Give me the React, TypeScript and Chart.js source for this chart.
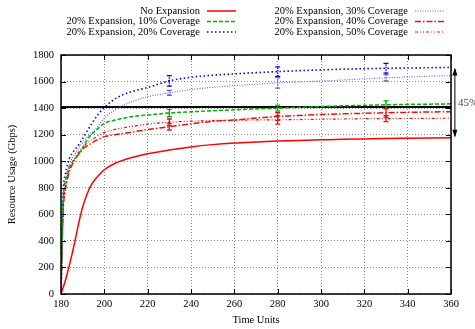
import React, { useEffect, useRef } from "react";
import { Chart, registerables } from "chart.js";

Chart.register(...registerables);

const xs = [180, 181, 182, 183, 184, 186, 188, 190, 192, 194, 196, 198, 200, 205, 210, 215, 220, 230, 240, 250, 260, 270, 280, 290, 300, 310, 320, 330, 340, 350, 360];

const noExpansion = [0, 50, 100, 160, 225, 365, 520, 655, 752, 822, 868, 904, 936, 985, 1015, 1038, 1056, 1085, 1108, 1125, 1137, 1145, 1152, 1157, 1161, 1165, 1168, 1171, 1173, 1175, 1177];
const cov10 = [0, 700, 840, 915, 960, 1010, 1050, 1100, 1160, 1200, 1230, 1260, 1285, 1310, 1328, 1340, 1348, 1363, 1372, 1380, 1387, 1394, 1400, 1406, 1412, 1417, 1421, 1425, 1428, 1430, 1432];
const cov20 = [0, 760, 900, 975, 1025, 1080, 1120, 1170, 1225, 1278, 1328, 1370, 1405, 1470, 1510, 1535, 1555, 1605, 1632, 1648, 1658, 1667, 1675, 1682, 1688, 1693, 1697, 1700, 1702, 1704, 1706];
const cov30 = [0, 720, 860, 930, 985, 1045, 1095, 1140, 1180, 1213, 1245, 1285, 1323, 1388, 1430, 1462, 1486, 1515, 1540, 1556, 1569, 1580, 1590, 1597, 1604, 1612, 1620, 1628, 1634, 1640, 1645];
const cov40 = [0, 620, 780, 870, 930, 1000, 1050, 1090, 1115, 1135, 1155, 1170, 1185, 1200, 1212, 1225, 1238, 1260, 1282, 1300, 1310, 1325, 1336, 1345, 1352, 1357, 1361, 1365, 1368, 1371, 1373];
const cov50 = [0, 640, 800, 890, 950, 1015, 1065, 1105, 1135, 1160, 1180, 1200, 1217, 1240, 1255, 1268, 1280, 1294, 1302, 1306, 1309, 1311, 1312, 1314, 1316, 1318, 1320, 1321, 1322, 1323, 1324];

const errX = [230, 280, 330];
const errCov10 = [28, 22, 30];
const errCov20 = [40, 36, 37];
const errCov30 = [18, 40, 24];
const errCov40 = [25, 29, 33];
const errCov50 = [24, 32, 23];

const labels = [
  "No Expansion",
  "20% Expansion, 10% Coverage",
  "20% Expansion, 20% Coverage",
  "20% Expansion, 30% Coverage",
  "20% Expansion, 40% Coverage",
  "20% Expansion, 50% Coverage",
];

const refLineValue = 1408;
const arrowXValue = 361.8;
const arrowFrom = 1177;
const arrowTo = 1706;
const arrowLabel = "45%";

const xTicks = [180, 200, 220, 240, 260, 280, 300, 320, 340, 360];
const yTicks = [0, 200, 400, 600, 800, 1000, 1200, 1400, 1600, 1800];

const FONT = "'Liberation Serif', 'DejaVu Serif', serif";

const toPts = (vals: number[]) => vals.map((y, i) => ({ x: xs[i], y }));

export default function App() {
  const ref = useRef<HTMLCanvasElement>(null);

  useEffect(() => {
    if (!ref.current) return;
    const styles = [
      { color: "#ff0000", dash: [], width: 1.5, err: null, errDash: [] },
      { color: "#00b000", dash: [4, 2], width: 1.5, err: errCov10, errDash: [] },
      { color: "#0000ee", dash: [1.5, 2.5], width: 1.6, err: errCov20, errDash: [1.5, 1] },
      { color: "#6464d8", dash: [1, 1.5], width: 1.1, err: errCov30, errDash: [1.5, 1] },
      { color: "#ee1010", dash: [6, 2, 1.5, 2], width: 1.5, err: errCov40, errDash: [] },
      { color: "#ee1010", dash: [3, 2, 1, 2, 1, 2], width: 1.2, err: errCov50, errDash: [] },
    ];
    const series = [noExpansion, cov10, cov20, cov30, cov40, cov50];

    const datasets: any[] = series.map((vals, i) => ({
      label: labels[i],
      data: toPts(vals),
      borderColor: styles[i].color,
      borderDash: styles[i].dash,
      borderWidth: styles[i].width,
      pointRadius: 0,
      fill: false,
      cubicInterpolationMode: "monotone",
      errBars: styles[i].err,
      errDash: styles[i].errDash,
      inLegend: true,
    }));
    datasets.push({
      label: "ref",
      data: [
        { x: xTicks[0], y: refLineValue },
        { x: xTicks[xTicks.length - 1], y: refLineValue },
      ],
      borderColor: "#000000",
      borderWidth: 2,
      pointRadius: 0,
      fill: false,
      inLegend: false,
    });

    const extras = {
      id: "extras",
      afterDatasetsDraw(chart: any) {
        const ctx = chart.ctx;
        const xS = chart.scales.x;
        const yS = chart.scales.y;
        const ca = chart.chartArea;
        ctx.save();
        // error bars
        chart.data.datasets.forEach((ds: any, di: number) => {
          if (!ds.errBars) return;
          ctx.strokeStyle = ds.borderColor;
          ctx.lineWidth = 1.3;
          errX.forEach((ex, k) => {
            const idx = xs.indexOf(ex);
            const yv = series[di][idx];
            const e = ds.errBars[k];
            const px = xS.getPixelForValue(ex);
            const y1 = yS.getPixelForValue(yv - e);
            const y2 = yS.getPixelForValue(yv + e);
            ctx.setLineDash(ds.errDash || []);
            ctx.beginPath();
            ctx.moveTo(px, y1);
            ctx.lineTo(px, y2);
            ctx.stroke();
            ctx.setLineDash([]);
            ctx.beginPath();
            ctx.moveTo(px - 2.5, y1);
            ctx.lineTo(px + 2.5, y1);
            ctx.moveTo(px - 2.5, y2);
            ctx.lineTo(px + 2.5, y2);
            ctx.stroke();
          });
        });
        // frame
        ctx.setLineDash([]);
        ctx.strokeStyle = "#000";
        ctx.lineWidth = 1.5;
        ctx.strokeRect(ca.left, ca.top, ca.right - ca.left, ca.bottom - ca.top);
        // inward tick marks
        ctx.lineWidth = 1;
        ctx.beginPath();
        xTicks.forEach((t) => {
          const px = Math.round(xS.getPixelForValue(t)) + 0.5;
          ctx.moveTo(px, ca.bottom);
          ctx.lineTo(px, ca.bottom - 5);
          ctx.moveTo(px, ca.top);
          ctx.lineTo(px, ca.top + 5);
        });
        yTicks.forEach((t) => {
          const py = Math.round(yS.getPixelForValue(t)) + 0.5;
          ctx.moveTo(ca.left, py);
          ctx.lineTo(ca.left + 5, py);
          ctx.moveTo(ca.right, py);
          ctx.lineTo(ca.right - 5, py);
        });
        ctx.stroke();
        // arrow
        const ax = xS.getPixelForValue(arrowXValue);
        const ay1 = yS.getPixelForValue(arrowTo);
        const ay2 = yS.getPixelForValue(arrowFrom);
        ctx.lineWidth = 1;
        ctx.beginPath();
        ctx.moveTo(ax, ay1 + 2);
        ctx.lineTo(ax, ay2 - 2);
        ctx.stroke();
        ctx.fillStyle = "#000";
        ctx.beginPath();
        ctx.moveTo(ax, ay1);
        ctx.lineTo(ax - 2.5, ay1 + 8);
        ctx.lineTo(ax + 2.5, ay1 + 8);
        ctx.closePath();
        ctx.fill();
        ctx.beginPath();
        ctx.moveTo(ax, ay2);
        ctx.lineTo(ax - 2.5, ay2 - 8);
        ctx.lineTo(ax + 2.5, ay2 - 8);
        ctx.closePath();
        ctx.fill();
        ctx.fillStyle = "#444";
        ctx.font = `11px ${FONT}`;
        ctx.textAlign = "left";
        ctx.textBaseline = "middle";
        ctx.fillText(arrowLabel, ax + 3, (ay1 + ay2) / 2 + 0.5);
        // legend
        const legendDs = chart.data.datasets.filter((d: any) => d.inLegend);
        ctx.font = `10.5px ${FONT}`;
        ctx.textAlign = "right";
        const colText = [200, 408];
        const rowY = [11, 21.5, 32];
        legendDs.forEach((ds: any, i: number) => {
          const col = Math.floor(i / 3);
          const row = i % 3;
          const tx = colText[col];
          const ty = rowY[row];
          ctx.fillStyle = "#000";
          ctx.fillText(ds.label, tx, ty);
          ctx.strokeStyle = ds.borderColor;
          ctx.lineWidth = ds.borderWidth;
          ctx.setLineDash(ds.borderDash || []);
          ctx.beginPath();
          ctx.moveTo(tx + 7, ty);
          ctx.lineTo(tx + 36, ty);
          ctx.stroke();
        });
        ctx.restore();
      },
    };

    const chart = new Chart(ref.current, {
      type: "line",
      data: { datasets },
      options: {
        animation: false,
        responsive: false,
        maintainAspectRatio: false,
        layout: { padding: { left: 0, right: 24, top: 55, bottom: 0 } },
        plugins: { legend: { display: false }, tooltip: { enabled: false } },
        scales: {
          x: {
            type: "linear",
            min: 180,
            max: 360,
            afterFit: (s: any) => {
              s.height = 35;
            },
            afterBuildTicks: (s: any) => {
              s.ticks = xTicks.map((v) => ({ value: v }));
            },
            ticks: {
              autoSkip: false,
              maxRotation: 0,
              padding: 4,
              color: "#000",
              font: { family: FONT, size: 10.5 },
              callback: (v: any) => String(v),
            },
            grid: { color: "#8a8a8a", lineWidth: 1, drawTicks: false },
            border: { display: false, dash: [1, 2] },
            title: {
              display: true,
              text: "Time Units",
              color: "#000",
              font: { family: FONT, size: 10.5 },
              padding: { top: 0, bottom: 2.5 },
            },
          },
          y: {
            type: "linear",
            min: 0,
            max: 1800,
            afterFit: (s: any) => {
              s.width = 61;
            },
            afterBuildTicks: (s: any) => {
              s.ticks = yTicks.map((v) => ({ value: v }));
            },
            ticks: {
              autoSkip: false,
              padding: 7,
              color: "#000",
              font: { family: FONT, size: 10.5 },
              callback: (v: any) => String(v),
            },
            grid: { color: "#8a8a8a", lineWidth: 1, drawTicks: false },
            border: { display: false, dash: [1, 2] },
            title: {
              display: true,
              text: "Resource Usage (Gbps)",
              color: "#000",
              font: { family: FONT, size: 10.5 },
              padding: { top: 6, bottom: 0 },
            },
          },
        },
      },
      plugins: [extras],
    } as any);
    return () => chart.destroy();
  }, []);

  return (
    <div style={{ position: "fixed", left: 0, top: 0, width: 475, height: 329, background: "#fff" }}>
      <canvas ref={ref} width={475} height={329} style={{ width: 475, height: 329, display: "block" }} />
    </div>
  );
}
